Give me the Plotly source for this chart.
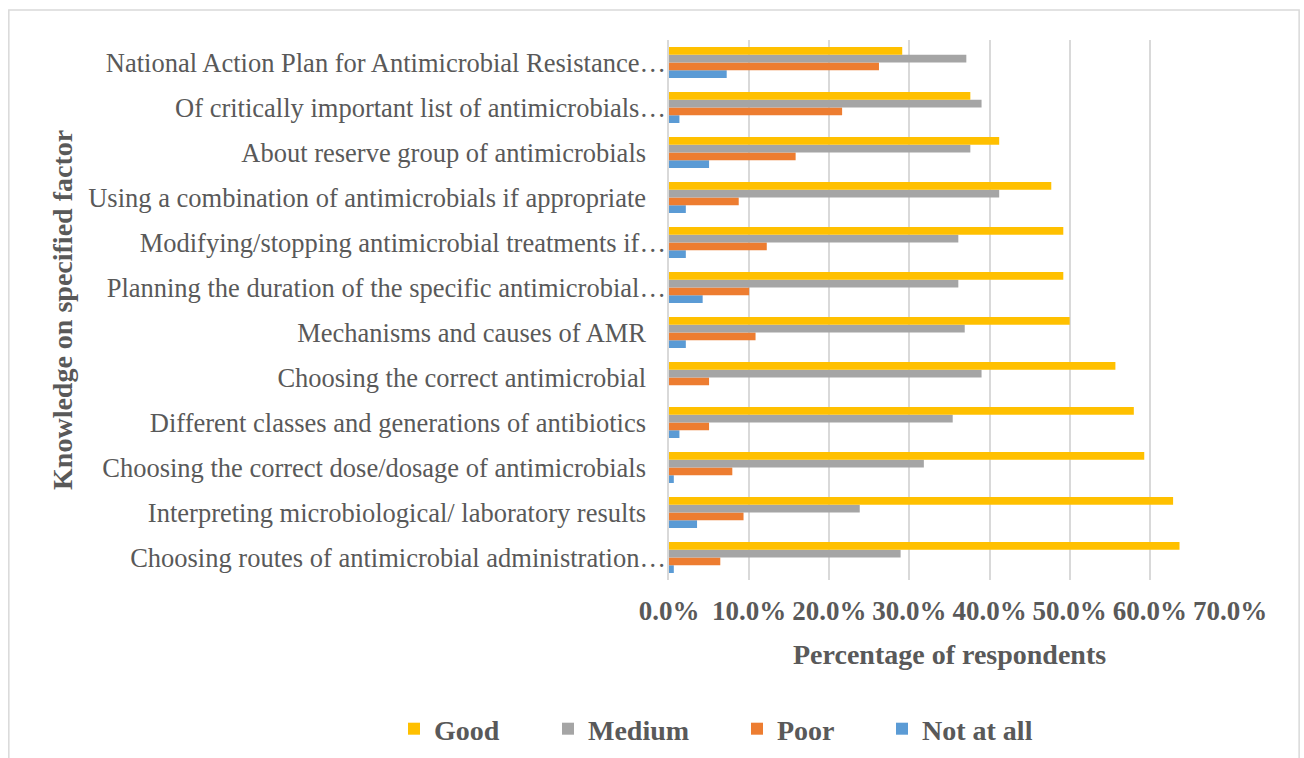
import plotly.graph_objects as go

# Knowledge items, listed bottom-to-top as they appear on the y axis
categories = [
    "Choosing routes of antimicrobial administration…",
    "Interpreting microbiological/ laboratory results",
    "Choosing the correct dose/dosage of antimicrobials",
    "Different classes and generations of antibiotics",
    "Choosing the correct antimicrobial",
    "Mechanisms and causes of AMR",
    "Planning the duration of the specific antimicrobial…",
    "Modifying/stopping antimicrobial treatments if…",
    "Using a combination of antimicrobials if appropriate",
    "About reserve group of antimicrobials",
    "Of critically important list of antimicrobials…",
    "National Action Plan for Antimicrobial Resistance…",
]

# Share of respondents (fraction) per knowledge level
good = [0.637, 0.629, 0.593, 0.580, 0.557, 0.500, 0.492, 0.492, 0.477, 0.412, 0.376, 0.291]
medium = [0.289, 0.238, 0.318, 0.354, 0.390, 0.369, 0.361, 0.361, 0.412, 0.376, 0.390, 0.371]
poor = [0.064, 0.093, 0.079, 0.050, 0.050, 0.108, 0.100, 0.122, 0.087, 0.158, 0.216, 0.262]
not_at_all = [0.006, 0.035, 0.006, 0.013, 0.0, 0.021, 0.042, 0.021, 0.021, 0.050, 0.013, 0.072]

x_ticks = [0, 0.1, 0.2, 0.3, 0.4, 0.5, 0.6, 0.7]
x_tick_labels = ["0.0%", "10.0%", "20.0%", "30.0%", "40.0%", "50.0%", "60.0%", "70.0%"]

SERIF = "Liberation Serif, Times New Roman, serif"
TEXT = "#595959"
W, H = 1304, 758


def pad(label):
    # labels without an ellipsis sit a little further from the axis
    return label if label.endswith("…") else label + "\u00a0\u00a0\u00a0"


y_labels = [pad(c) for c in categories]

fig = go.Figure()
# traces added bottom-up so "Good" is the top bar in each group;
# each series gets its own legend box so the entries can be spaced freely
series = [
    ("Not at all", not_at_all, "#5B9BD5", "legend4", 924),
    ("Poor", poor, "#ED7D31", "legend3", 779),
    ("Medium", medium, "#A5A5A5", "legend2", 590),
    ("Good", good, "#FFC000", "legend", 436),
]
legend_boxes = {}
for name, vals, color, leg, text_x in series:
    fig.add_trace(go.Bar(
        y=y_labels, x=vals, name=name, orientation="h",
        marker=dict(color=color, line=dict(width=0)),
        legend=leg, showlegend=True,
    ))
    legend_boxes[leg] = dict(
        orientation="h",
        x=(text_x - 42) / W, xanchor="left", xref="container",
        y=(H - 729) / H, yanchor="middle", yref="container",
        font=dict(size=28, family=SERIF, color=TEXT, weight="bold"),
        itemwidth=30, bgcolor="rgba(0,0,0,0)",
    )

fig.update_layout(
    width=W, height=H,
    showlegend=True,
    margin=dict(l=669, r=74, t=40, b=178, autoexpand=False),
    barmode="group",
    bargap=0.31,
    bargroupgap=0,
    paper_bgcolor="white",
    plot_bgcolor="white",
    font=dict(family=SERIF, color=TEXT),
    xaxis=dict(
        range=[0, 0.7],
        tickvals=x_ticks,
        ticktext=x_tick_labels,
        tickfont=dict(size=27, family=SERIF, color=TEXT, weight="bold"),
        showgrid=True, gridcolor="#D9D9D9", gridwidth=1.5,
        zeroline=False, showline=False, ticks="",
        ticklabelstandoff=12,
    ),
    yaxis=dict(
        tickfont=dict(size=26.5, family=SERIF, color=TEXT),
        showgrid=False, zeroline=False,
        showline=True, linecolor="#D9D9D9", linewidth=1.5,
        ticks="", ticklabelstandoff=-4,
    ),
    annotations=[
        dict(text="<b>Percentage of respondents</b>", xref="paper", yref="paper",
             x=0.5, y=-(654 - 580) / 540, xanchor="center", yanchor="middle",
             showarrow=False, font=dict(size=28, family=SERIF, color=TEXT)),
        dict(text="<b>Knowledge on specified factor</b>", xref="paper", yref="paper",
             x=(63 - 669) / 560, y=0.5, xanchor="center", yanchor="middle",
             textangle=-90, showarrow=False,
             font=dict(size=28, family=SERIF, color=TEXT)),
    ],
    shapes=[
        dict(type="rect", xref="paper", yref="paper",
             x0=(10 - 669) / 560, x1=(1298 - 669) / 560,
             y0=-(800 - 580) / 540, y1=(580 - 10) / 540,
             line=dict(color="#D9D9D9", width=1.5), fillcolor="rgba(0,0,0,0)",
             layer="below"),
    ],
    **legend_boxes,
)

fig.write_html("out.html")
